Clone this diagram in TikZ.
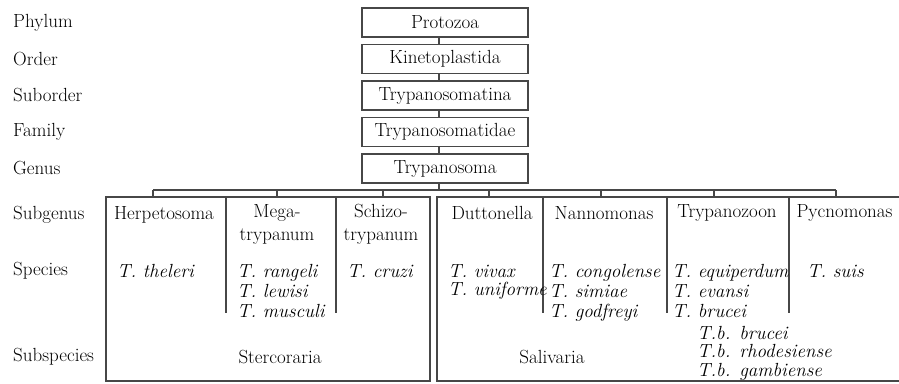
\documentclass[tikz,border=0pt]{standalone}
\usepackage{fontspec}
\usetikzlibrary{positioning}

\begin{document}
\begin{tikzpicture}[x=1pt, y=-1pt, font=\fontsize{19}{20}\selectfont,
  line/.style={draw=black!72, line width=1.3pt},
  taxbox/.style={line, minimum width=166pt, minimum height=29pt, inner sep=0pt},
  groupbox/.style={line, minimum height=184pt, inner sep=0pt},
  rank/.style={anchor=west, inner sep=0pt},
  subgen/.style={inner sep=0pt, align=center, font=\fontsize{19}{23}\selectfont},
  species/.style={anchor=north west, inner sep=0pt, align=left, font=\fontsize{19}{20}\selectfont\itshape}]
  \useasboundingbox (0,0) rectangle (899,383);
  \clip (0,0) rectangle (899,383);
  % ---- rank labels down the left margin ----
  \foreach \n/\t/\yy in {phylum/Phylum/22.5, order/Order/59, suborder/Suborder/95.5, family/Family/132,
                        genus/Genus/168.5, subgenus/Subgenus/215, species/Species/271, subspecies/Subspecies/357} {
    \node[rank] (\n) at (13,\yy) {\t};
  }
  % ---- single chain from phylum to genus ----
  \foreach \n/\t/\yy in {proto/Protozoa/22.5, kineto/Kinetoplastida/59, subord/Trypanosomatina/95.5,
                        fam/Trypanosomatidae/132, trypa/Trypanosoma/168.5} {
    \node[taxbox] (\n) at (445,\yy) {\t};
  }
  \foreach \a/\b in {proto/kineto, kineto/subord, subord/fam, fam/trypa} {
    \draw[line] ([xshift=-6pt]\a.south) -- ([xshift=-6pt]\b.north);
  }
  % ---- the two sections ----
  \node[groupbox, minimum width=324pt] (sterc) at (268,289) {};
  \node[groupbox, minimum width=473pt] (saliv) at (673.5,289) {};
  \node (stercname) at (280,357) {Stercoraria};
  \node (salivname) at (552,357) {Salivaria};
  % ---- bar from the genus to each subgenus ----
  \coordinate (barmid) at ([xshift=-6pt]trypa.south |- 0,190);
  \coordinate (barL) at (153,190);
  \coordinate (barR) at (836,190);
  \draw[line] ([xshift=-6pt]trypa.south) -- (barmid);
  \draw[line] (barL) -- (barR);
  \foreach \x in {153,277,383} { \draw[line] (\x,190) -- (sterc.north -| \x,0); }
  \foreach \x in {489,601,714,836} { \draw[line] (\x,190) -- (saliv.north -| \x,0); }
  % ---- column rules inside the sections ----
  \foreach \x in {226,336} { \draw[line] (sterc.north -| \x,0) -- (\x,313); }
  \foreach \x in {543,667,789} { \draw[line] (saliv.north -| \x,0) -- (\x,313); }
  % ---- subgenera ----
  \node[subgen] (herp) at (164,215) {Herpetosoma};
  \node[subgen] (mega) at (277,224) {Mega-\\trypanum};
  \node[subgen] (schiz) at (381,224) {Schizo-\\trypanum};
  \node[subgen] (dutt) at (492,213) {Duttonella};
  \node[subgen] (nanno) at (604,213) {Nannomonas};
  \node[subgen] (tzoon) at (727,213) {Trypanozoon};
  \node[subgen] (pycno) at (844.5,213) {Pycnomonas};
  % ---- species and subspecies ----
  \node[species] (sp1) at (117,264) {T. theleri};
  \node[species] (sp2) at (237,264) {T. rangeli\\T. lewisi\\T. musculi};
  \node[species] (sp3) at (347,264) {T. cruzi};
  \node[species, font=\fontsize{19}{18}\selectfont\itshape] (sp4) at (448,264) {T. vivax\\T. uniforme};
  \node[species] (sp5) at (549,264) {T. congolense\\T. simiae\\T. godfreyi};
  \node[species] (sp6) at (672,264) {T. equiperdum\\T. evansi\\T. brucei};
  \node[species] (sp7) at (807,264) {T. suis};
  \node[species, font=\fontsize{19}{18.5}\selectfont\itshape] (ssp) at (697,326) {T.b. brucei\\T.b. rhodesiense\\T.b. gambiense};
\end{tikzpicture}
\end{document}
